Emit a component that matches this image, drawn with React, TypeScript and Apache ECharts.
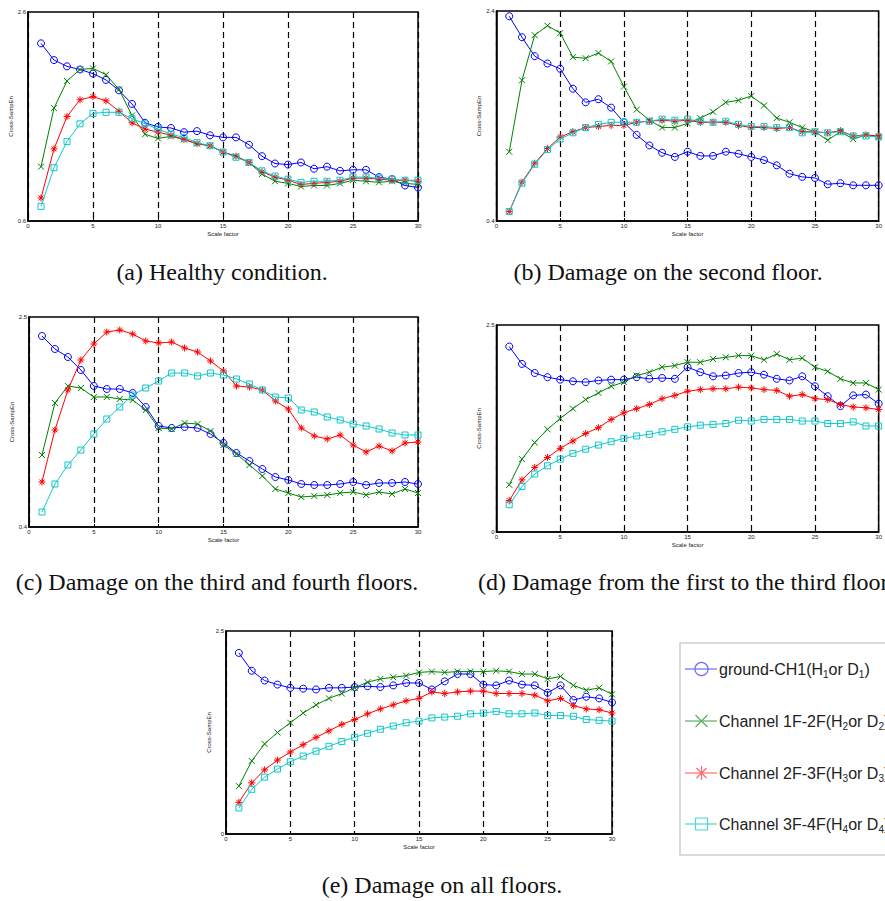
import React, { useEffect, useRef } from "react";
import * as echarts from "echarts";

const scaleFactor = [1,2,3,4,5,6,7,8,9,10,11,12,13,14,15,16,17,18,19,20,21,22,23,24,25,26,27,28,29,30];

const aBlue = [2.30,2.14,2.08,2.05,2.01,1.95,1.85,1.72,1.54,1.50,1.49,1.45,1.46,1.42,1.40,1.40,1.33,1.22,1.15,1.14,1.16,1.10,1.12,1.08,1.09,1.09,1.02,1.00,0.94,0.92];
const aGreen = [1.12,1.68,1.94,2.05,2.06,2.00,1.86,1.61,1.43,1.39,1.41,1.38,1.34,1.32,1.26,1.22,1.16,1.05,0.98,0.96,0.93,0.94,0.94,0.96,0.99,0.98,0.97,0.98,0.96,0.95];
const aRed = [0.82,1.29,1.60,1.76,1.79,1.75,1.65,1.54,1.48,1.45,1.42,1.38,1.34,1.32,1.26,1.22,1.16,1.07,1.02,0.99,0.95,0.96,0.97,0.98,1.01,1.01,1.00,0.99,0.99,0.98];
const aCyan = [0.74,1.11,1.36,1.53,1.63,1.64,1.64,1.58,1.53,1.48,1.43,1.40,1.35,1.32,1.26,1.21,1.16,1.08,1.03,1.00,0.97,0.98,0.98,0.99,1.02,1.02,1.01,1.00,0.99,0.99];

const bBlue = [2.35,2.15,1.97,1.90,1.85,1.66,1.53,1.56,1.48,1.34,1.22,1.12,1.05,1.01,1.06,1.02,1.02,1.06,1.04,1.01,0.98,0.93,0.85,0.82,0.81,0.75,0.76,0.74,0.74,0.74];
const bGreen = [1.06,1.74,2.17,2.26,2.19,1.96,1.95,2.00,1.92,1.68,1.46,1.36,1.29,1.29,1.33,1.38,1.44,1.53,1.55,1.59,1.50,1.38,1.34,1.29,1.25,1.17,1.25,1.18,1.22,1.20];
const bRed = [0.49,0.77,0.95,1.09,1.20,1.25,1.29,1.30,1.31,1.31,1.34,1.35,1.36,1.35,1.36,1.34,1.34,1.34,1.31,1.29,1.29,1.28,1.29,1.25,1.25,1.24,1.26,1.21,1.22,1.21];
const bCyan = [0.49,0.76,0.94,1.08,1.18,1.24,1.29,1.32,1.34,1.34,1.34,1.35,1.37,1.36,1.37,1.35,1.34,1.35,1.32,1.30,1.30,1.29,1.29,1.24,1.25,1.24,1.25,1.21,1.21,1.20];

const cBlue = [2.31,2.18,2.10,1.97,1.81,1.78,1.78,1.74,1.60,1.41,1.39,1.40,1.39,1.33,1.24,1.14,1.06,0.98,0.90,0.87,0.83,0.82,0.82,0.83,0.85,0.82,0.84,0.84,0.85,0.83];
const cGreen = [1.12,1.64,1.81,1.79,1.70,1.70,1.68,1.67,1.57,1.39,1.38,1.44,1.43,1.36,1.22,1.13,1.02,0.91,0.78,0.74,0.70,0.71,0.72,0.74,0.75,0.72,0.75,0.73,0.78,0.74];
const cRed = [0.85,1.37,1.77,2.07,2.23,2.35,2.37,2.33,2.26,2.24,2.25,2.19,2.15,2.06,1.96,1.81,1.80,1.77,1.66,1.58,1.39,1.31,1.28,1.32,1.22,1.15,1.21,1.16,1.24,1.25];
const cCyan = [0.55,0.83,1.02,1.17,1.33,1.48,1.60,1.72,1.79,1.86,1.94,1.94,1.91,1.94,1.92,1.88,1.83,1.77,1.70,1.69,1.57,1.55,1.50,1.47,1.43,1.41,1.38,1.34,1.32,1.32];

const dBlue = [2.24,2.03,1.92,1.87,1.84,1.82,1.81,1.83,1.84,1.84,1.87,1.85,1.86,1.85,1.99,1.93,1.88,1.89,1.92,1.93,1.90,1.85,1.83,1.88,1.76,1.64,1.52,1.65,1.66,1.55];
const dGreen = [0.57,0.88,1.08,1.24,1.37,1.49,1.60,1.68,1.76,1.81,1.89,1.93,1.99,2.01,2.05,2.05,2.09,2.11,2.13,2.13,2.08,2.15,2.08,2.10,1.99,1.94,1.85,1.80,1.80,1.72];
const dRed = [0.38,0.63,0.78,0.90,1.01,1.10,1.19,1.26,1.36,1.44,1.49,1.54,1.61,1.65,1.70,1.72,1.73,1.73,1.75,1.74,1.72,1.71,1.64,1.66,1.61,1.60,1.54,1.51,1.50,1.48];
const dCyan = [0.33,0.55,0.70,0.80,0.88,0.95,1.00,1.05,1.09,1.13,1.16,1.18,1.21,1.24,1.27,1.29,1.30,1.31,1.35,1.34,1.36,1.36,1.36,1.34,1.34,1.31,1.31,1.33,1.28,1.28];

const eBlue = [2.23,2.01,1.89,1.84,1.80,1.79,1.78,1.80,1.80,1.81,1.82,1.81,1.83,1.86,1.86,1.78,1.88,1.97,1.97,1.84,1.83,1.89,1.84,1.83,1.74,1.83,1.65,1.69,1.67,1.62];
const eGreen = [0.59,0.90,1.11,1.25,1.37,1.49,1.59,1.67,1.73,1.80,1.87,1.91,1.93,1.95,1.99,2.00,1.99,2.00,2.00,2.00,2.01,2.00,1.97,1.97,1.91,1.94,1.83,1.77,1.80,1.72];
const eRed = [0.39,0.63,0.79,0.91,1.01,1.10,1.19,1.27,1.35,1.41,1.48,1.54,1.59,1.64,1.67,1.75,1.73,1.75,1.76,1.76,1.73,1.73,1.73,1.71,1.64,1.67,1.58,1.54,1.53,1.49];
const eCyan = [0.32,0.55,0.70,0.80,0.89,0.96,1.02,1.08,1.14,1.19,1.24,1.29,1.33,1.37,1.39,1.43,1.44,1.45,1.48,1.49,1.51,1.48,1.48,1.49,1.46,1.46,1.45,1.41,1.40,1.39];

const yRanges = [[0.6, 2.6], [0.4, 2.4], [0.4, 2.5], [0, 2.5], [0, 2.5]];
const xTicks = [0, 30, 5];
const captions = [
  "(a) Healthy condition.",
  "(b) Damage on the second floor.",
  "(c) Damage on the third and fourth floors.",
  "(d) Damage from the first to the third floors.",
  "(e) Damage on all floors.",
];
const legendNames = [
  ["ground-CH1(H", "1", "or D", "1", ")"],
  ["Channel 1F-2F(H", "2", "or D", "2", ")"],
  ["Channel 2F-3F(H", "3", "or D", "3", ")"],
  ["Channel 3F-4F(H", "4", "or D", "4", ")"],
];

const panels = [
  [aBlue, aGreen, aRed, aCyan],
  [bBlue, bGreen, bRed, bCyan],
  [cBlue, cGreen, cRed, cCyan],
  [dBlue, dGreen, dRed, dCyan],
  [eBlue, eGreen, eRed, eCyan],
];

const grids = [
  { left: 28, top: 12, width: 390, height: 209 },
  { left: 496.5, top: 11, width: 388, height: 210 },
  { left: 29, top: 317, width: 389, height: 210 },
  { left: 496.5, top: 325, width: 388, height: 207 },
  { left: 226, top: 631, width: 386, height: 203 },
];
const captionPos = [
  { x: 222, y: 272, align: "center" },
  { x: 668, y: 272, align: "center" },
  { x: 217, y: 582, align: "center" },
  { x: 478, y: 582, align: "left" },
  { x: 442, y: 885, align: "center" },
];

const COLORS = ["#0000ff", "#008000", "#ff0000", "#10c8c8"];
const LEG_COLORS = ["#6b6bff", "#5fae5f", "#ff6b6b", "#4fd3d3"];
const X_SYM = "path://M0,0L10,10M10,0L0,10";
const STAR_SYM = "path://M5,0L5,10M0,5L10,5M1.5,1.5L8.5,8.5M8.5,1.5L1.5,8.5";
const SYMS = ["circle", X_SYM, STAR_SYM, "rect"];
const SYM_SIZES = [7, 6, 7, 6];

export default function App() {
  const ref = useRef<HTMLDivElement>(null);
  useEffect(() => {
    if (!ref.current) return;
    const chart = echarts.init(ref.current, undefined, { renderer: "svg" });
    const axisFont = { fontSize: 6, color: "#222", fontFamily: "Liberation Sans" };

    const grid = grids.map((g) => ({
      ...g,
      show: true,
      borderColor: "#000",
      borderWidth: 1.5,
      backgroundColor: "#fff",
      containLabel: false,
    }));

    const xAxis = grids.map((_, i) => ({
      type: "value",
      gridIndex: i,
      min: xTicks[0],
      max: xTicks[1],
      interval: xTicks[2],
      name: "Scale factor",
      nameLocation: "middle",
      nameGap: 10,
      nameTextStyle: { ...axisFont },
      axisLine: { show: true, onZero: false, lineStyle: { color: "#000", width: 1.5 } },
      axisTick: { show: true, inside: true, length: 3, lineStyle: { color: "#000" } },
      axisLabel: { ...axisFont, margin: 2 },
      splitLine: { show: true, lineStyle: { color: "#000", type: [6, 4], width: 1.2 } },
    }));

    const yAxis = grids.map((_, i) => ({
      type: "value",
      gridIndex: i,
      min: yRanges[i][0],
      max: yRanges[i][1],
      name: "Cross-SampEn",
      nameLocation: "middle",
      nameGap: 14,
      nameTextStyle: { ...axisFont },
      axisLine: { show: true, onZero: false, lineStyle: { color: "#000", width: 1.5 } },
      axisTick: { show: false },
      axisLabel: {
        ...axisFont,
        margin: 2,
        customValues: [yRanges[i][0], yRanges[i][1]],
        formatter: (v: number) => String(Math.round(v * 10) / 10),
      },
      splitLine: { show: false },
    }));

    const series: any[] = [];
    panels.forEach((p, i) => {
      p.forEach((vals, k) => {
        const isPath = k === 1 || k === 2;
        series.push({
          type: "line",
          xAxisIndex: i,
          yAxisIndex: i,
          data: scaleFactor.map((s, j) => [s, vals[j]]),
          symbol: SYMS[k],
          symbolSize: SYM_SIZES[k],
          showSymbol: true,
          lineStyle: { color: COLORS[k], width: 1 },
          itemStyle: {
            color: isPath ? "none" : "rgba(255,255,255,0)",
            borderColor: COLORS[k],
            borderWidth: 1,
          },
          z: 3 + k,
          silent: true,
        });
      });
    });

    const graphic: any[] = [];
    captions.forEach((t, i) => {
      graphic.push({
        type: "text",
        x: captionPos[i].x,
        y: captionPos[i].y,
        style: {
          text: t,
          fontFamily: "Liberation Serif",
          fontSize: 24,
          fill: "#111",
          align: captionPos[i].align,
          verticalAlign: "middle",
        },
      });
    });

    // legend box
    graphic.push({
      type: "rect",
      shape: { x: 680, y: 643, width: 220, height: 212 },
      style: { fill: "#fff", stroke: "#cfcfcf", lineWidth: 1.5 },
    });
    const legY = [669, 721, 773, 824];
    legendNames.forEach((parts, k) => {
      const y = legY[k];
      const c = LEG_COLORS[k];
      graphic.push({
        type: "line",
        shape: { x1: 685, y1: y, x2: 717, y2: y },
        style: { stroke: c, lineWidth: 1.2 },
      });
      const cx = 701.5;
      if (k === 0) {
        graphic.push({ type: "circle", shape: { cx, cy: y, r: 6.5 }, style: { fill: "none", stroke: c, lineWidth: 1.2 } });
      } else if (k === 1) {
        graphic.push({ type: "line", shape: { x1: cx - 6, y1: y - 6, x2: cx + 6, y2: y + 6 }, style: { stroke: c, lineWidth: 1.2 } });
        graphic.push({ type: "line", shape: { x1: cx + 6, y1: y - 6, x2: cx - 6, y2: y + 6 }, style: { stroke: c, lineWidth: 1.2 } });
      } else if (k === 2) {
        graphic.push({ type: "line", shape: { x1: cx, y1: y - 7, x2: cx, y2: y + 7 }, style: { stroke: c, lineWidth: 1.2 } });
        graphic.push({ type: "line", shape: { x1: cx - 5, y1: y - 5, x2: cx + 5, y2: y + 5 }, style: { stroke: c, lineWidth: 1.2 } });
        graphic.push({ type: "line", shape: { x1: cx + 5, y1: y - 5, x2: cx - 5, y2: y + 5 }, style: { stroke: c, lineWidth: 1.2 } });
      } else {
        graphic.push({ type: "rect", shape: { x: cx - 6, y: y - 6, width: 12, height: 12 }, style: { fill: "none", stroke: c, lineWidth: 1.2 } });
      }
      graphic.push({
        type: "text",
        x: 719,
        y: y,
        style: {
          text: `{n|${parts[0]}}{s|${parts[1]}}{n|${parts[2]}}{s|${parts[3]}}{n|${parts[4]}}`,
          fontFamily: "Liberation Sans",
          fill: "#222",
          verticalAlign: "middle",
          align: "left",
          rich: {
            n: { fontSize: 16, lineHeight: 20, fontFamily: "Liberation Sans", fill: "#222" },
            s: { fontSize: 10, lineHeight: 10, verticalAlign: "bottom", fontFamily: "Liberation Sans", fill: "#222" },
          },
        },
      });
    });

    chart.setOption({
      animation: false,
      backgroundColor: "#fff",
      grid,
      xAxis,
      yAxis,
      series,
      graphic,
    });
    return () => chart.dispose();
  }, []);
  return (
    <div
      ref={ref}
      style={{ position: "fixed", left: 0, top: 0, width: 885, height: 901, background: "#fff" }}
    />
  );
}
